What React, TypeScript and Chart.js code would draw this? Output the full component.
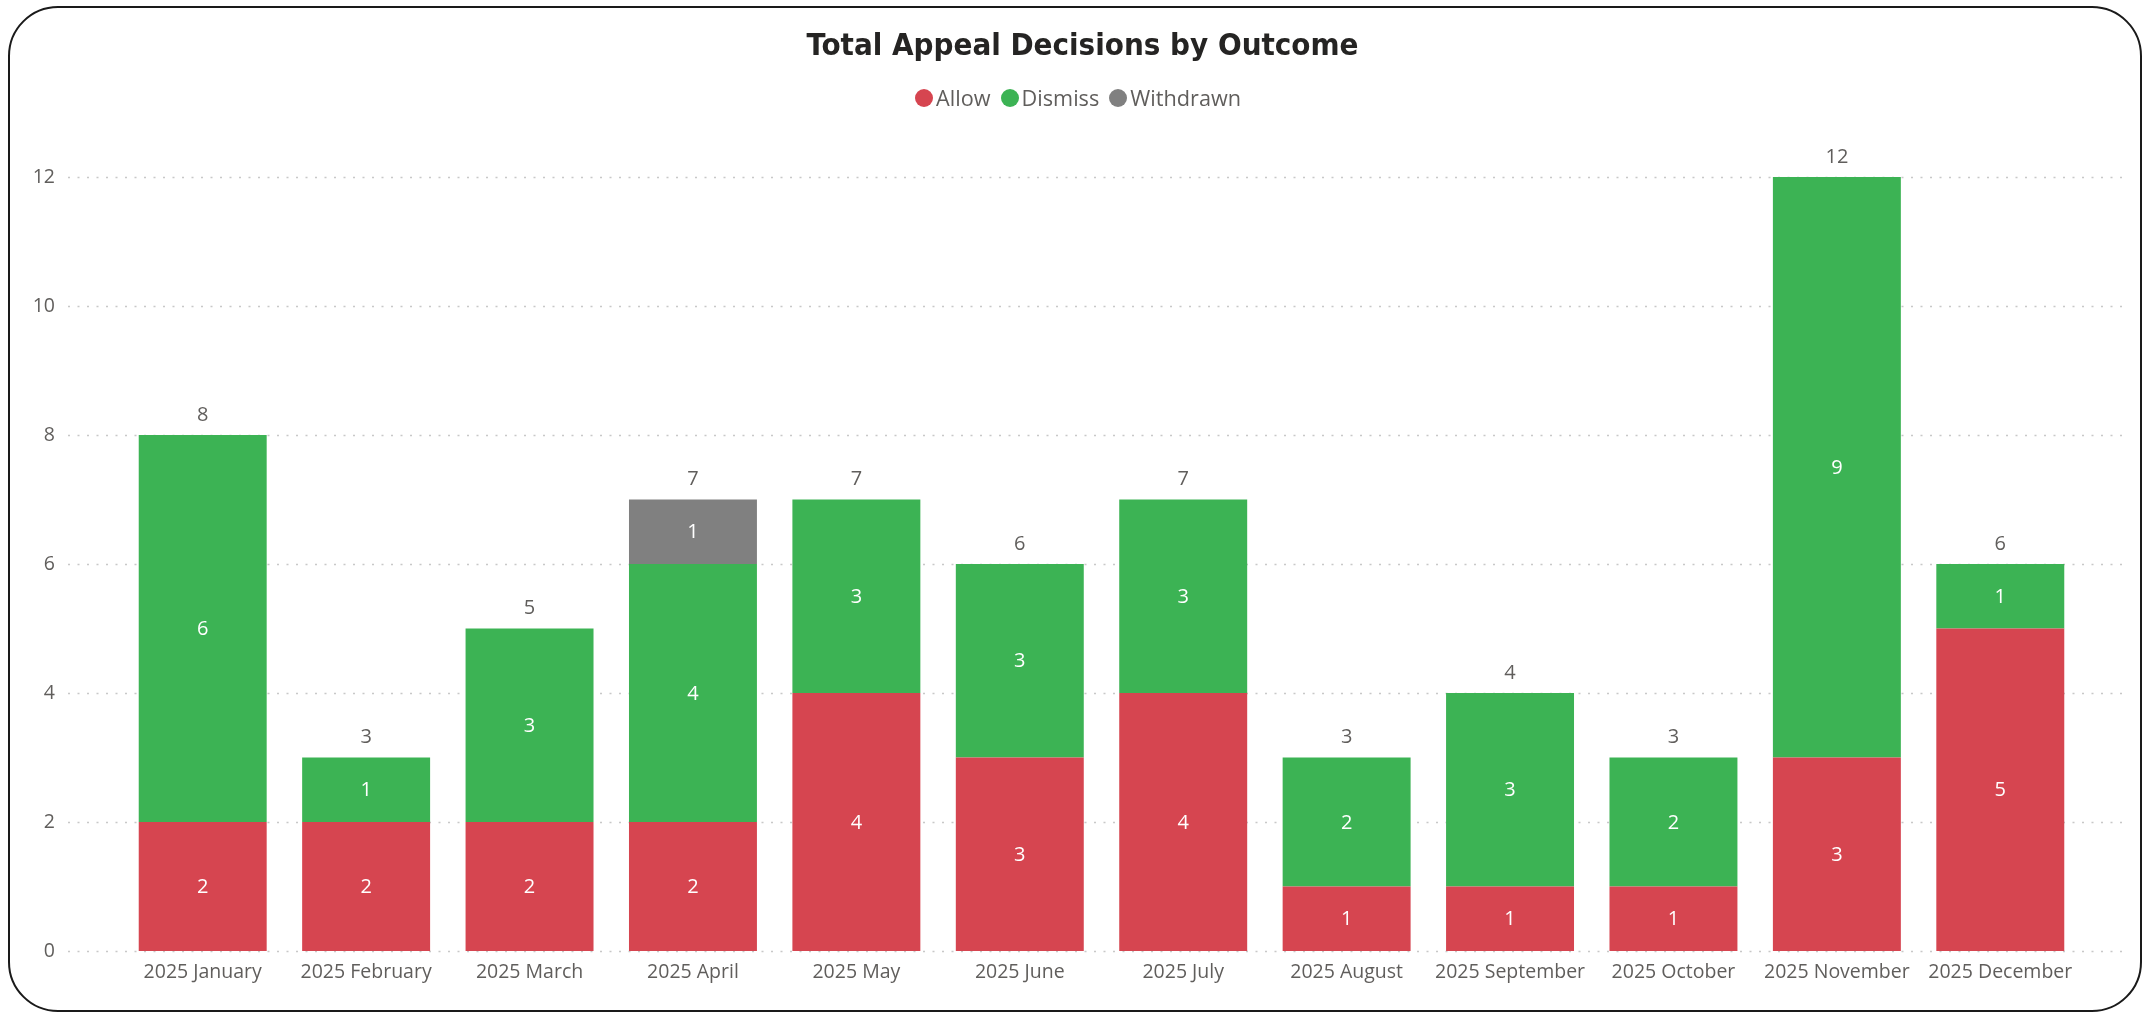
import React, { useEffect, useRef } from "react";
import { Chart, registerables } from "chart.js";

Chart.register(...registerables);

const categories = [
  "2025 January",
  "2025 February",
  "2025 March",
  "2025 April",
  "2025 May",
  "2025 June",
  "2025 July",
  "2025 August",
  "2025 September",
  "2025 October",
  "2025 November",
  "2025 December",
];
const allowValues = [2, 2, 2, 2, 4, 3, 4, 1, 1, 1, 3, 5];
const dismissValues = [6, 1, 3, 4, 3, 3, 3, 2, 3, 2, 9, 1];
const withdrawnValues = [null, null, null, 1, null, null, null, null, null, null, null, null];
const yTickValues = [0, 2, 4, 6, 8, 10, 12];

const seriesNames = ["Allow", "Dismiss", "Withdrawn"];
const seriesColors = ["#D64550", "#3CB354", "#808080"];

const TITLE = "Total Appeal Decisions by Outcome";
const FONT = "'Open Sans', 'Noto Sans', sans-serif";

const gridPlugin = {
  id: "extendedGrid",
  beforeDatasetsDraw(chart: any) {
    const { ctx, chartArea } = chart;
    const yScale = chart.scales.y;
    ctx.save();
    ctx.strokeStyle = "#C8C8C8";
    ctx.lineWidth = 1.5;
    ctx.setLineDash([2, 7.5]);
    yTickValues.forEach((v) => {
      const y = Math.round(yScale.getPixelForValue(v)) + 0.5;
      ctx.beginPath();
      ctx.moveTo(chartArea.left - 53, y);
      ctx.lineTo(chartArea.right + 45, y);
      ctx.stroke();
    });
    ctx.restore();
  },
};

const labelPlugin = {
  id: "barLabels",
  afterDatasetsDraw(chart: any) {
    const { ctx } = chart;
    const yScale = chart.scales.y;
    ctx.save();
    ctx.textAlign = "center";
    ctx.textBaseline = "middle";
    ctx.font = `20px ${FONT}`;
    ctx.fillStyle = "#FFFFFF";
    chart.data.datasets.forEach((ds: any, di: number) => {
      const meta = chart.getDatasetMeta(di);
      meta.data.forEach((el: any, i: number) => {
        const v = ds.data[i];
        if (v == null || v === 0) return;
        const yc = (el.y + el.base) / 2;
        ctx.fillText(String(v), el.x, yc + 1);
      });
    });
    ctx.fillStyle = "#605E5C";
    const meta0 = chart.getDatasetMeta(0);
    categories.forEach((_, i) => {
      const total =
        (allowValues[i] || 0) + (dismissValues[i] || 0) + (withdrawnValues[i] || 0);
      const x = meta0.data[i].x;
      const y = yScale.getPixelForValue(total) - 20;
      ctx.fillText(String(total), x, y);
    });
    ctx.restore();
  },
};

export default function App() {
  const canvasRef = useRef<HTMLCanvasElement | null>(null);

  useEffect(() => {
    if (!canvasRef.current) return;
    const chart = new Chart(canvasRef.current, {
      type: "bar",
      data: {
        labels: categories,
        datasets: [
          { label: seriesNames[0], data: allowValues, backgroundColor: seriesColors[0] },
          { label: seriesNames[1], data: dismissValues, backgroundColor: seriesColors[1] },
          { label: seriesNames[2], data: withdrawnValues as any, backgroundColor: seriesColors[2] },
        ],
      },
      options: {
        animation: false,
        responsive: false,
        maintainAspectRatio: false,
        layout: { padding: { top: 177, bottom: 0, left: 0, right: 61 } },
        datasets: {
          bar: { categoryPercentage: 1, barPercentage: 0.783, borderWidth: 0 },
        },
        plugins: {
          legend: { display: false },
          title: { display: false },
          tooltip: { enabled: false },
        },
        scales: {
          x: {
            stacked: true,
            grid: { display: false, drawTicks: false },
            border: { display: false },
            afterFit: (scale: any) => {
              scale.height = 63;
            },
            ticks: {
              color: "#605E5C",
              font: { family: FONT, size: 19.5 },
              padding: 10,
              maxRotation: 0,
              autoSkip: false,
            },
          },
          y: {
            stacked: true,
            min: 0,
            max: 12,
            grid: { display: false, drawTicks: true, tickLength: 66 },
            border: { display: false },
            afterFit: (scale: any) => {
              scale.width = 121;
            },
            ticks: {
              stepSize: 2,
              color: "#605E5C",
              font: { family: FONT, size: 19.5 },
              padding: 0,
            },
          },
        },
      },
      plugins: [gridPlugin, labelPlugin],
    });
    return () => chart.destroy();
  }, []);

  return (
    <div style={{ position: "absolute", left: 0, top: 0, width: 2143, height: 1014, background: "#fff" }}>
      <canvas
        ref={canvasRef}
        width={2143}
        height={1014}
        style={{ position: "absolute", left: 0, top: 0, width: 2143, height: 1014 }}
      />
      <div
        style={{
          position: "absolute",
          left: 8,
          top: 6,
          width: 2134,
          height: 1006,
          border: "2px solid #1A1A1A",
          borderRadius: 50,
          boxSizing: "border-box",
          pointerEvents: "none",
        }}
      />
      <div
        style={{
          position: "absolute",
          left: 11,
          top: 29,
          width: 2143,
          textAlign: "center",
          fontFamily: "'DejaVu Sans Condensed', 'DejaVu Sans', sans-serif",
          fontWeight: "bold",
          fontSize: 31,
          lineHeight: "31px",
          color: "#252423",
          whiteSpace: "nowrap",
        }}
      >
        {TITLE}
      </div>
      <div
        style={{
          position: "absolute",
          left: 915,
          top: 87,
          display: "flex",
          alignItems: "center",
          fontFamily: FONT,
          fontSize: 21.7,
          lineHeight: "22px",
          color: "#605E5C",
          whiteSpace: "nowrap",
        }}
      >
        {seriesNames.map((name, i) => (
          <div key={name} style={{ display: "flex", alignItems: "center", marginRight: 10 }}>
            <span
              style={{
                display: "inline-block",
                width: 18,
                height: 18,
                borderRadius: 9,
                background: seriesColors[i],
                marginRight: 3,
              }}
            />
            <span>{name}</span>
          </div>
        ))}
      </div>
    </div>
  );
}
